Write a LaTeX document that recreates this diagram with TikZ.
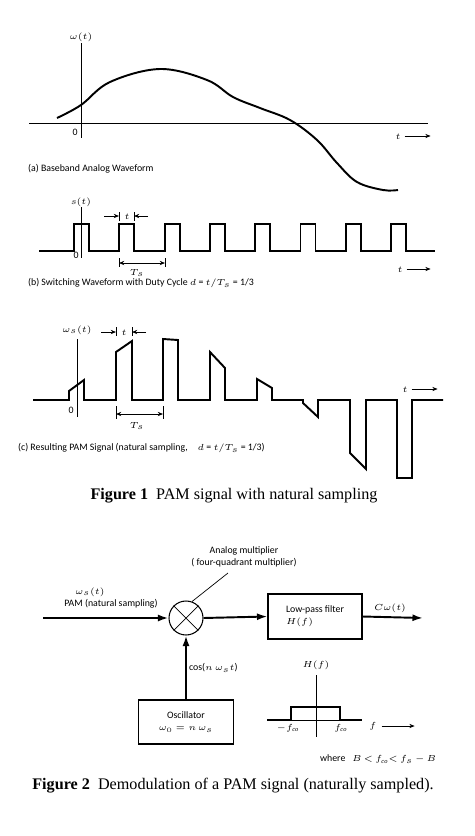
\documentclass[tikz,border=0pt]{standalone}
\usepackage{fontspec}
\setmainfont{Liberation Serif}
\setsansfont{Carlito}
\DeclareMathSizes{5.6}{4.8}{3.7}{3}
\usetikzlibrary{arrows.meta,positioning}

\begin{document}
\begin{tikzpicture}[
  x=0.02cm, y=-0.02cm,
  font=\sffamily\fontsize{5.6}{6.8}\selectfont,
  axis/.style={line width=0.45pt},
  wave/.style={line width=1.1pt, line join=miter},
  tick/.style={line width=0.4pt},
  dimarrow/.style={-{Stealth[length=3pt,width=2.4pt]}, line width=0.4pt},
  dimboth/.style={{Stealth[length=3pt,width=2.4pt]}-{Stealth[length=3pt,width=2.4pt]}, line width=0.4pt},
  flow/.style={-{Latex[length=6pt,width=4pt]}, line width=1.1pt},
  lbl/.style={inner sep=1pt},
  figcap/.style={font=\rmfamily\fontsize{9.2}{11}\selectfont, inner sep=0pt},
  blk/.style={draw, line width=0.6pt, inner sep=0pt}
]
\useasboundingbox (0,0) rectangle (474,836);

% (a) baseband waveform
\draw[axis] (29,123) -- (428,123);
\draw[axis] (81,43) -- (81,138);
\node[lbl] (wlab) at (81,37) {$\omega(t)$};
\node[lbl] (zeroa) at (75,132) {0};
\node[lbl] (ta) at (398,137) {$t$};
\draw[dimarrow] (ta.east) ++(2,-1) -- ++(26,0);
\draw[wave] plot[smooth, tension=0.6] coordinates {(57,118) (81,105) (110,82) (160,69) (207,80) (233,97) (260,108) (290,120) (317,140) (337,163) (357,182) (383,190) (398,190)};
\node[lbl, anchor=west] (capa) at (26,169) {(a) Baseband Analog Waveform};

% (b) switching waveform
\draw[axis] (81,207) -- (81,258);
\node[lbl] (slab) at (81,202) {$s(t)$};
\node[lbl] (zerob) at (76,255) {0};
\draw[wave] (39,251) foreach \k in {0,...,7} {
  -- ({74+45.3*\k},251) -- ({74+45.3*\k},224) -- ({89+45.3*\k},224) -- ({89+45.3*\k},251)} -- (435,251);
\draw[tick] (119,212) -- (119,221) (134,212) -- (134,221);
\draw[dimarrow] (104,216) -- (119,216);
\draw[dimarrow] (148,216) -- (134,216);
\node[lbl] (tb) at (127,217) {$t$};
\draw[tick] (119,258) -- (119,267) (165,258) -- (165,267);
\draw[dimboth] (119,263) -- (165,263);
\node[lbl] (tsb) at (137,273) {$T_s$};
\node[lbl] (tb2) at (400,270) {$t$};
\draw[dimarrow] (tb2.east) ++(2,-1) -- ++(24,0);
\node[lbl, anchor=west] (capb) at (26,283) {(b) Switching Waveform with Duty Cycle $d$ = $t/T_s$ = 1/3};

% (c) resulting PAM signal
\draw[axis] (77,339) -- (77,417);
\node[lbl] (wslab) at (77,330) {$\omega_s(t)$};
\node[lbl] (zeroc) at (71,410) {0};
\draw[wave] (33,400) -- (69,400) -- (69,391) -- (84,380) -- (84,400)
  -- (116,400) -- (116,352) -- (132,341) -- (132,400)
  -- (163,400) -- (163,339) -- (178,340) -- (178,400)
  -- (210,400) -- (210,352) -- (225,368) -- (225,400)
  -- (257,400) -- (257,379) -- (272,388) -- (272,400)
  -- (303,400) -- (303,403) -- (318,417) -- (318,400)
  -- (350,400) -- (350,453) -- (366,469) -- (366,400)
  -- (397,400) -- (397,478) -- (412,478) -- (412,400) -- (443,400);
\draw[tick] (116,327) -- (116,336) (132,327) -- (132,336);
\draw[dimarrow] (101,332) -- (116,332);
\draw[dimarrow] (146,332) -- (132,332);
\node[lbl] (tc) at (124,333) {$t$};
\draw[tick] (116,406) -- (116,419) (163,406) -- (163,419);
\draw[dimboth] (116,414) -- (163,414);
\node[lbl] (tsc) at (137,426) {$T_s$};
\node[lbl] (tc2) at (405,390) {$t$};
\draw[dimarrow] (tc2.east) ++(2,-1) -- ++(26,0);
\node[lbl, anchor=west] (capc) at (16,448) {(c) Resulting PAM Signal (natural sampling,\quad $d$ = $t/T_s$ = 1/3)};

\node[figcap] (fig1) at (234,496) {\textbf{Figure 1}\ \ PAM signal with natural sampling};

% demodulator
\node[blk, circle, minimum size=0.68cm] (mult) at (186,618) {};
\draw[tick] (mult.45) -- (mult.225) (mult.135) -- (mult.315);
\node[blk, minimum width=1.88cm, minimum height=0.9cm, align=left] (lpf) at (315,616.5) {Low-pass filter\\$H(f)$};
\node[blk, minimum width=1.9cm, minimum height=0.88cm, align=center] (osc) at (186,722) {Oscillator\\$\omega_{\mathrm{O}} = n\,\omega_s$};
\coordinate (in) at (43,618);
\coordinate (out) at (423,618);
\draw[flow] (in) -- (mult.west);
\draw[flow] (mult.east) -- (lpf.west);
\draw[flow] (lpf.east) -- (out);
\draw[flow] (osc.north) -- (mult.south);
\node[lbl] (inlab) at (90,592) {$\omega_s(t)$};
\node[lbl] (pamlab) at (111,604) {PAM (natural sampling)};
\node[lbl] (outlab) at (390,608) {$C\omega(t)$};
\node[lbl, anchor=west] (coslab) at (187,668) {cos($n\,\omega_s t$)};
\node[lbl, align=center] (amnote) at (244,557) {Analog multiplier\\( four-quadrant multiplier)};
\coordinate (lead) at (228,573);
\draw[tick] (lead) -- (mult.70);

% filter response
\draw[axis] (316,675) -- (316,737);
\draw[axis] (291,720) -- (340,720);
\draw[wave] (267,720) -- (291,720) -- (291,707) -- (340,707) -- (340,720) -- (362,720);
\node[lbl] (hlab) at (316,665) {$H(f)$};
\node[lbl] (fneg) at (288,728) {$-f_{\mathit{co}}$};
\node[lbl] (fpos) at (341,728) {$f_{\mathit{co}}$};
\node[lbl] (flab) at (373,726) {$f$};
\draw[dimarrow] (flab.east) ++(3,0) -- ++(33,0);
\node[lbl, anchor=west] (where) at (318,759) {where\ \ \ $B\,{<}\,f_{\mathit{co}}{<}\,f_s\,{-}\,B$};

\node[figcap] (fig2) at (233,786) {\textbf{Figure 2}\ \ Demodulation of a PAM signal (naturally sampled).};
\end{tikzpicture}
\end{document}
